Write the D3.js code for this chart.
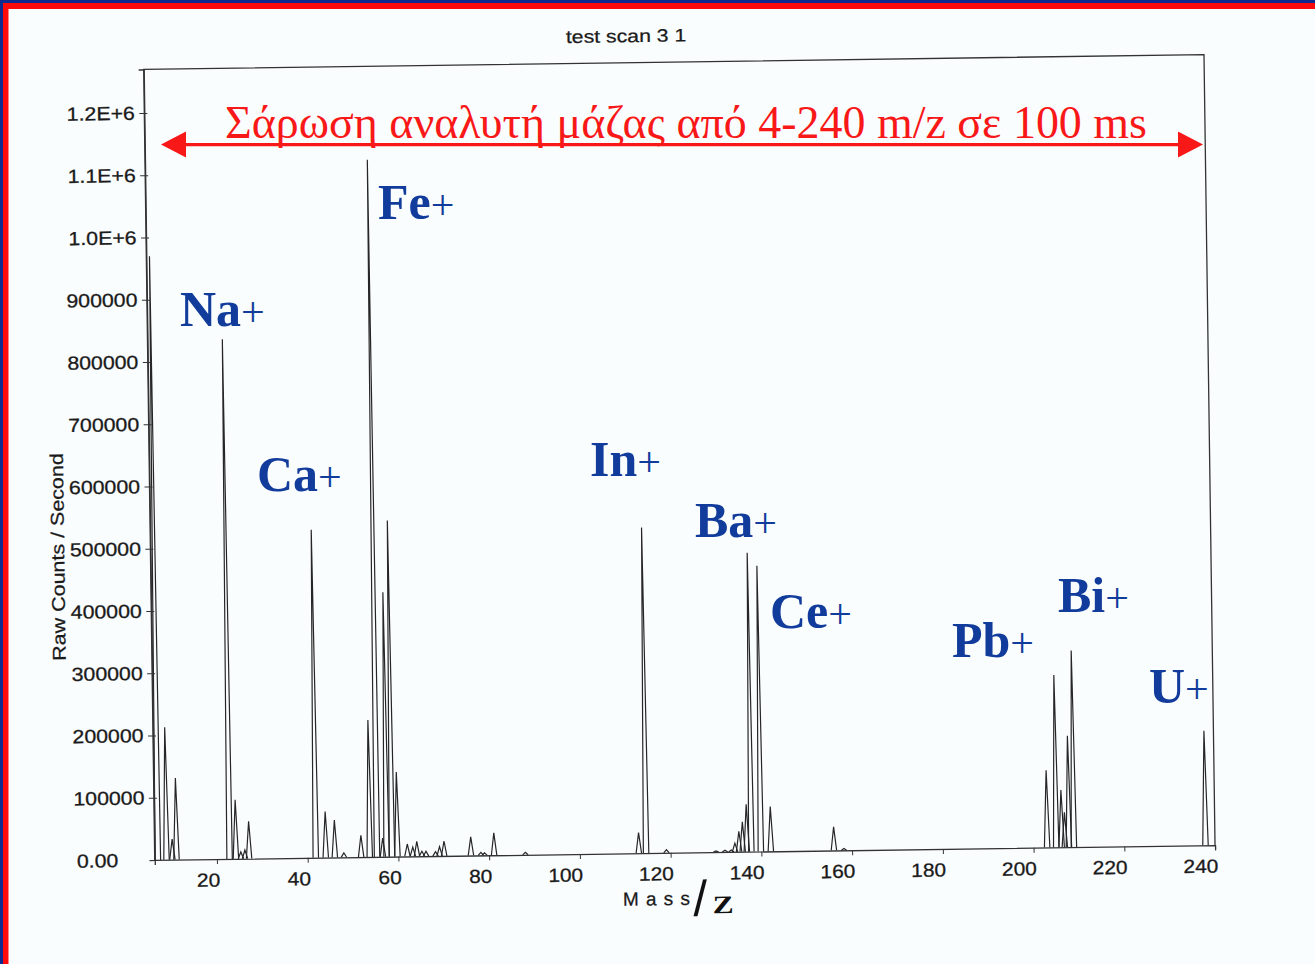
<!DOCTYPE html>
<html><head><meta charset="utf-8">
<script src="https://cdn.jsdelivr.net/npm/d3@7"></script>
<style>html,body{margin:0;padding:0;background:#fff;} svg{display:block;}</style>
</head><body>
<svg id="c" width="1315" height="964"></svg>
<script>
// ---------- data ----------
const chartTitle = "test scan 3 1";
const yAxisTitle = "Raw Counts / Second";
const xAxisWord = "Mass";
const xAxisSlash = "/";
const xAxisZ = "Z";
const scanNote = "Σάρωση αναλυτή μάζας από 4-240 m/z σε 100 ms";

const peakMz = [7.0, 8.9, 10.2, 11.1, 22.8, 24.2, 25.3, 26.2, 27.1,
  41.8, 44.0, 46.0, 48.0, 51.8, 53.7, 55.3, 56.6, 57.4, 58.6, 59.8,
  62.0, 63.2, 64.1, 65.2, 66.1, 68.2, 69.1, 70.1, 76.0, 78.2, 79.0, 81.1, 88.0,
  113.0, 114.6, 119.1, 130.0, 132.0, 133.4, 134.2, 135.1, 135.9, 136.8, 137.8, 139.9, 142.1,
  156.0, 158.2, 203.0, 205.0, 206.2, 206.9, 207.8, 208.9, 237.9];
const peakCounts = [970000, 213000, 33000, 131000, 835000, 95000, 11000, 14000, 60000,
  527000, 74000, 60000, 7000, 35000, 220000, 1120000, 30000, 425000, 540000, 136000,
  20000, 15000, 24000, 8000, 8000, 7000, 15000, 24000, 30000, 5000, 4000, 36000, 4000,
  33000, 523000, 5000, 2000, 3000, 3000, 14000, 33000, 48000, 76000, 480000, 459000, 72000,
  38000, 3000, 124000, 277000, 92000, 56000, 179000, 316000, 184000];

const xTicks = [20, 40, 60, 80, 100, 120, 140, 160, 180, 200, 220, 240];
const yTicks = [0, 100000, 200000, 300000, 400000, 500000, 600000, 700000, 800000, 900000, 1000000, 1100000, 1200000];
const yTickLabels = ["0.00", "100000", "200000", "300000", "400000", "500000", "600000", "700000", "800000", "900000", "1.0E+6", "1.1E+6", "1.2E+6"];

const ionNames = ["Na", "Fe", "Ca", "In", "Ba", "Ce", "Pb", "Bi", "U"];

// ---------- layout ----------
const W = 1315, H = 964;
const ionPos = [[180, 326], [378, 219], [257, 491], [590, 476], [695, 537], [770, 628], [952, 657], [1058, 612], [1149, 703]];
const sansFont = "'Liberation Sans', Arial, Helvetica, sans-serif";
const serifFont = "'Liberation Serif', 'Times New Roman', serif";
const inkColor = "#1a1a1a";
const redColor = "#f81818";
const blueColor = "#123c9c";

const svg = d3.select("#c");

// slide background and border
svg.append("rect").attr("width", W).attr("height", H).attr("fill", "#fafdfe");
svg.append("rect").attr("x", 0).attr("y", 0).attr("width", W).attr("height", 9).attr("fill", "#ff0a0a");
svg.append("rect").attr("x", 0).attr("y", 0).attr("width", 8.5).attr("height", H).attr("fill", "#ff0a0a");
svg.append("rect").attr("x", 0).attr("y", 0).attr("width", W).attr("height", 3).attr("fill", "#0d2a8c");
svg.append("rect").attr("x", 0).attr("y", 0).attr("width", 3).attr("height", H).attr("fill", "#0d2a8c");

function stretch(sel, k) {
  sel.each(function () {
    const w = this.getComputedTextLength();
    d3.select(this).attr("textLength", w * k).attr("lengthAdjust", "spacingAndGlyphs");
  });
}

// the scanned chart is slightly tilted
const g = svg.append("g").attr("transform", "rotate(-0.8,680,460)");

const x = d3.scaleLinear().domain([6.3, 240]).range([149.2, 1209.6]);
const y = d3.scaleLinear().domain([0, 1270000]).range([852.6, 62]);
const [x0, x1] = x.range();
const [yb, yt] = y.range();

// plot frame
g.append("path")
  .attr("d", `M${x0},${yb}V${yt}H${x1}V${yb}`)
  .attr("fill", "none").attr("stroke", "#333").attr("stroke-width", 1.3);

// clip
g.append("clipPath").attr("id", "plotclip").append("rect")
  .attr("x", x0).attr("y", yt).attr("width", x1 - x0).attr("height", yb - yt + 1);

// spectrum peaks
const halfW = 0.6;
const peaks = peakMz.map((m, i) => ({ m, c: peakCounts[i] }));
g.append("g").attr("clip-path", "url(#plotclip)")
  .selectAll("path").data(peaks).join("path")
  .attr("d", d => `M${x(d.m - halfW)},${y(0)}L${x(d.m)},${y(d.c)}L${x(d.m + halfW)},${y(0)}`)
  .attr("fill", "none").attr("stroke", "#262626").attr("stroke-width", 1.2)
  .attr("stroke-linejoin", "miter");

// y axis
const yAxis = g.append("g").attr("transform", `translate(${x0},0)`)
  .call(d3.axisLeft(y).tickValues(yTicks).tickSize(5).tickPadding(4.5)
    .tickFormat((d, i) => yTickLabels[i]));
yAxis.select(".domain").attr("stroke", "#333").attr("stroke-width", 1.3);
yAxis.selectAll(".tick line").attr("x2", -5).attr("x1", 3).attr("stroke", "#333");
yAxis.selectAll(".tick text")
  .attr("font-family", sansFont).attr("font-size", 19).attr("fill", inkColor)
  .attr("stroke", inkColor).attr("stroke-width", 0.3)
  .attr("dx", (d, i) => i === 0 ? -27 : 0)
  .call(stretch, 1.12);

// x axis
const xAxis = g.append("g").attr("transform", `translate(0,${yb})`)
  .call(d3.axisBottom(x).tickValues(xTicks).tickSize(5).tickPadding(9));
xAxis.select(".domain").attr("stroke", "#333").attr("stroke-width", 1.3);
xAxis.selectAll(".tick line").attr("stroke", "#333");
xAxis.selectAll(".tick text")
  .attr("font-family", sansFont).attr("font-size", 19).attr("fill", inkColor)
  .attr("stroke", inkColor).attr("stroke-width", 0.3)
  .attr("text-anchor", "end").attr("dx", 2.5)
  .call(stretch, 1.1);

// chart title
g.append("text").attr("x", 632).attr("y", 41.5).attr("text-anchor", "middle")
  .attr("font-family", sansFont).attr("font-size", 18).attr("fill", inkColor)
  .attr("stroke", inkColor).attr("stroke-width", 0.25)
  .text(chartTitle).call(stretch, 1.18);

// y title
g.append("text").attr("transform", "translate(63,548.3) rotate(-90)").attr("text-anchor", "middle")
  .attr("font-family", sansFont).attr("font-size", 18.5).attr("fill", inkColor)
  .attr("stroke", inkColor).attr("stroke-width", 0.25)
  .text(yAxisTitle).call(stretch, 1.16);

// x title  Mass/Z
g.append("text").attr("x", 616.8).attr("y", 905)
  .attr("font-family", sansFont).attr("font-size", 19).attr("fill", inkColor)
  .attr("stroke", inkColor).attr("stroke-width", 0.25)
  .attr("textLength", 67).attr("lengthAdjust", "spacing")
  .text(xAxisWord);
g.append("text").attr("x", 694).attr("y", 916).attr("text-anchor", "middle")
  .attr("font-family", sansFont).attr("font-size", 50).attr("fill", "#111")
  .text(xAxisSlash);
g.append("text").attr("x", 706.5).attr("y", 913.6)
  .attr("font-family", serifFont).attr("font-size", 25).attr("font-weight", "bold").attr("fill", "#111")
  .attr("textLength", 21).attr("lengthAdjust", "spacingAndGlyphs")
  .text(xAxisZ);

// ---------- overlay annotations (not tilted) ----------
// red scan arrow
const ay = 144.6;
svg.append("line").attr("x1", 183).attr("x2", 1181).attr("y1", ay).attr("y2", ay)
  .attr("stroke", redColor).attr("stroke-width", 3.4);
svg.append("path").attr("d", `M161,${ay}L186,${ay - 13}L186,${ay + 13}Z`).attr("fill", redColor);
svg.append("path").attr("d", `M1203,${ay}L1178,${ay - 13}L1178,${ay + 13}Z`).attr("fill", redColor);
svg.append("text").attr("x", 225).attr("y", 138)
  .attr("font-family", serifFont).attr("font-size", 46).attr("fill", redColor)
  .attr("textLength", 922).attr("lengthAdjust", "spacingAndGlyphs")
  .text(scanNote);

// blue ion labels
ionNames.forEach((n, i) => {
  const t = svg.append("text").attr("x", ionPos[i][0]).attr("y", ionPos[i][1])
    .attr("font-family", serifFont).attr("fill", blueColor);
  t.append("tspan").attr("font-size", 50).attr("font-weight", "bold").text(n);
  t.append("tspan").attr("font-size", 42).attr("font-weight", "normal").text("+");
});
</script>
</body></html>
